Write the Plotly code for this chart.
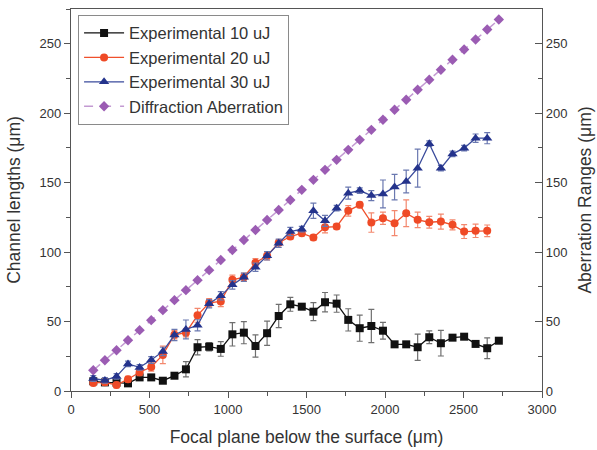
import plotly.graph_objects as go

x_um = [142, 216, 290, 363, 437, 511, 585, 659, 732, 806, 880, 954, 1028, 1101, 1175,
        1249, 1323, 1397, 1470, 1544, 1618, 1692, 1766, 1839, 1913, 1987, 2061, 2135,
        2208, 2282, 2356, 2430, 2504, 2577, 2651, 2725]

exp10 = [7, 6.2, 6, 5.5, 9.8, 9.8, 7.4, 11, 15.6, 31.5, 31.9, 30.3, 40.8, 42, 32.4, 41.6,
         54, 62.4, 60.7, 57.1, 63.9, 62.9, 51.2, 45.2, 46.8, 43.4, 33.6, 33.6, 31.5, 38.7,
         34.4, 38.4, 39.1, 33.9, 30.8, 36.2]
err10 = [1.5, 1.5, 1.5, 1.5, 2, 2, 1.5, 2, 5.5, 5.5, 3, 5.3, 8.4, 8, 8, 8.7, 8.4, 5, 2,
         6.5, 7, 6.2, 8, 9.4, 12, 6, 1.5, 1.5, 9.5, 4.6, 9.2, 1.5, 1.5, 2, 7.5, 1.5]

exp20 = [5.8, 6.3, 4.3, 8.5, 13.5, 17.3, 26, 40.5, 42, 54.5, 63.5, 64.5, 80, 81.9, 92.4,
         97.3, 106.8, 111.2, 113.6, 110.5, 117.9, 118.4, 129.7, 134, 121.3, 124.4, 120.8,
         128, 123.2, 121.5, 122, 119.6, 114.8, 115.3, 115.3]
err20 = [2, 2, 2, 2, 2.5, 3, 6.3, 3, 3, 5, 3, 3.8, 3.4, 3, 3, 3, 2, 2, 2, 2, 4, 2, 3.8, 2,
         7, 4.4, 9, 9.6, 5.6, 4.2, 5.4, 3.6, 5, 4.8, 4.2]

exp30 = [9, 7.6, 10.5, 19.5, 17, 22.3, 28.5, 40.3, 44.3, 47.3, 62.8, 68.5, 76.4, 81.9, 89.1,
         97.3, 106.4, 114.8, 116.5, 129.7, 122.5, 131.6, 142.4, 144.3, 140.7, 141.9, 146.8,
         150.8, 160.4, 178, 160.4, 170.7, 174.8, 182, 182]
err30 = [2, 2, 2, 2, 2, 2.5, 3, 4, 6.8, 4, 3, 3, 3, 3, 3, 3, 3, 3, 2, 5.5, 4, 2, 4.3, 2,
         3.6, 10, 9.2, 8.2, 13.7, 2, 2, 2, 2, 3, 4]

diffraction = [14.9, 22.1, 29.3, 36.5, 43.8, 51.0, 58.2, 65.4, 72.6, 79.8, 87.0, 94.3,
               101.5, 108.7, 115.9, 123.1, 130.3, 137.5, 144.8, 152.0, 159.2, 166.4,
               173.6, 180.8, 188.0, 195.3, 202.5, 209.7, 216.9, 224.1, 231.3, 238.5,
               245.8, 253.0, 260.2, 267.4]

FONT = "Arial, Liberation Sans, sans-serif"
TXT = "#333333"
TITLE_SIZE = 17.5

fig = go.Figure()

fig.add_trace(go.Scatter(
    x=x_um, y=exp10, name="Experimental 10 uJ", mode="lines+markers",
    line=dict(color="#111111", width=1.3),
    marker=dict(symbol="square", size=8, color="#111111"),
    error_y=dict(type="data", array=err10, color="#6f6f6f", thickness=1.2, width=3),
))
fig.add_trace(go.Scatter(
    x=x_um[:len(exp20)], y=exp20, name="Experimental 20 uJ", mode="lines+markers",
    line=dict(color="#f0502c", width=1.3),
    marker=dict(symbol="circle", size=8, color="#ef4a26"),
    error_y=dict(type="data", array=err20, color="#f3886e", thickness=1.2, width=3),
))
fig.add_trace(go.Scatter(
    x=x_um[:len(exp30)], y=exp30, name="Experimental 30 uJ", mode="lines+markers",
    line=dict(color="#3a4b9c", width=1.3),
    marker=dict(symbol="triangle-up", size=9, color="#24338c"),
    error_y=dict(type="data", array=err30, color="#6a78b0", thickness=1.2, width=3),
))
fig.add_trace(go.Scatter(
    x=x_um, y=diffraction, name="Diffraction Aberration", mode="lines+markers",
    yaxis="y2",
    line=dict(color="#c39ad2", width=1.5, dash="dash"),
    marker=dict(symbol="diamond", size=8, color="#9b5cb3"),
))

fig.update_layout(
    width=597, height=450,
    margin=dict(l=71, r=55, t=9, b=59),
    paper_bgcolor="white", plot_bgcolor="white",
    font=dict(family=FONT, size=13, color=TXT),
    showlegend=True,
    legend=dict(
        x=0.015, y=0.985, xanchor="left", yanchor="top",
        bgcolor="white", bordercolor="#8a8a8a", borderwidth=1,
        font=dict(family=FONT, size=16.5, color=TXT),
        tracegroupgap=0, itemwidth=40,
    ),
    xaxis=dict(
        range=[0, 3000], dtick=500, tick0=0, automargin=False,
        showline=True, linecolor="#555555", linewidth=1.3, mirror=True,
        ticks="outside", ticklen=6, tickcolor="#555555",
        minor=dict(ticks="outside", ticklen=4, dtick=250, tickcolor="#555555"),
        showgrid=False, zeroline=False,
        tickfont=dict(family=FONT, size=13, color=TXT),
        title=dict(text="Focal plane below the surface (\u03bcm)",
                   font=dict(family=FONT, size=TITLE_SIZE, color=TXT), standoff=14),
    ),
    yaxis=dict(
        range=[0, 275], dtick=50, tick0=0, automargin=False,
        showline=True, linecolor="#555555", linewidth=1.3,
        ticks="outside", ticklen=6, tickcolor="#555555",
        minor=dict(ticks="outside", ticklen=4, dtick=25, tickcolor="#555555"),
        showgrid=False, zeroline=False,
        tickfont=dict(family=FONT, size=13, color=TXT),
        title=dict(text="Channel lengths (\u03bcm)",
                   font=dict(family=FONT, size=TITLE_SIZE, color=TXT), standoff=14),
    ),
    yaxis2=dict(
        overlaying="y", side="right", automargin=False,
        range=[0, 275], dtick=50, tick0=0,
        showline=True, linecolor="#555555", linewidth=1.3,
        ticks="inside", ticklen=7, tickcolor="#555555",
        minor=dict(ticks="inside", ticklen=4, dtick=25, tickcolor="#555555"),
        showgrid=False, zeroline=False,
        tickfont=dict(family=FONT, size=13, color=TXT),
        title=dict(text="Aberration Ranges (\u03bcm)",
                   font=dict(family=FONT, size=TITLE_SIZE, color=TXT), standoff=12),
    ),
)

fig.write_html("out.html", config={"displayModeBar": False},
               post_script="document.body.style.margin='0px';")
